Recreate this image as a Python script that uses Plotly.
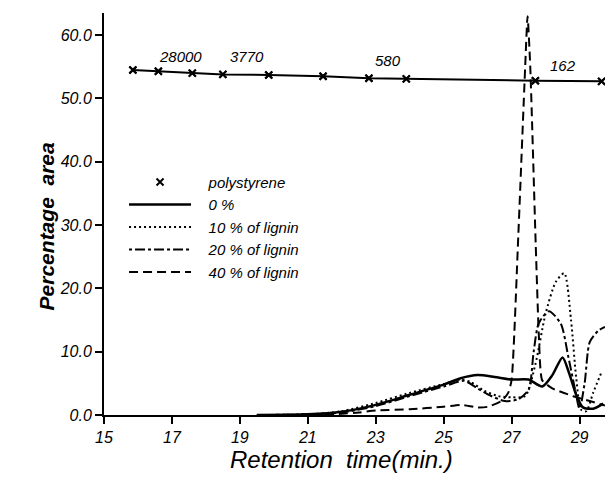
import plotly.graph_objects as go

# ---- data ----
ps_time = [15.85, 16.6, 17.6, 18.5, 19.85, 21.45, 22.8, 23.9, 27.7, 29.65]
ps_area = [54.5, 54.3, 54.0, 53.8, 53.7, 53.5, 53.2, 53.1, 52.8, 52.7]

mw_labels = ["28000", "3770", "580", "162"]
mw_time = [17.26, 19.2, 23.35, 28.5]
mw_area = [56.6, 56.6, 56.0, 55.2]

t0 = [19.5, 21.0, 22.0, 23.0, 24.0, 25.0, 25.5, 26.0, 26.5, 27.0, 27.5, 27.9, 28.2, 28.5, 28.7, 28.9, 29.1, 29.4, 29.7]
a0 = [0.0, 0.1, 0.5, 1.6, 3.2, 4.8, 5.8, 6.3, 6.0, 5.6, 5.6, 4.5, 6.3, 9.1, 6.5, 3.2, 1.2, 1.0, 1.8]

t10 = [19.5, 21.0, 22.0, 23.0, 24.0, 25.0, 25.5, 25.8, 26.2, 26.6, 27.0, 27.4, 27.7, 28.0, 28.3, 28.55, 28.75, 28.9, 29.05, 29.2, 29.4, 29.65]
a10 = [0.0, 0.1, 0.6, 1.9, 3.5, 4.9, 5.6, 5.2, 3.8, 3.0, 2.8, 3.0, 8.0, 16.0, 21.0, 22.4, 15.0, 6.0, 0.8, 0.6, 3.5, 6.8]

t20 = [19.5, 21.0, 22.0, 23.0, 24.0, 25.0, 25.6, 26.0, 26.4, 26.8, 27.2, 27.5, 27.65, 27.8, 28.1, 28.45, 28.67, 28.87, 29.0, 29.15, 29.3, 29.55, 29.75]
a20 = [0.0, 0.1, 0.4, 1.4, 3.0, 4.5, 5.4, 4.2, 3.0, 2.2, 2.5, 4.0, 10.0, 14.5, 16.4, 14.4, 9.2, 4.0, 1.0, 5.0, 11.5, 13.3, 13.9]

t40 = [21.5, 22.5, 23.0, 24.0, 25.0, 25.5, 26.0, 26.3, 26.7, 26.9, 27.0, 27.2, 27.4, 27.47, 27.55, 27.7, 27.8, 27.9, 28.2, 28.8, 29.3, 29.75]
a40 = [0.0, 0.4, 0.7, 0.9, 1.3, 1.6, 1.2, 1.3, 2.2, 3.5, 5.5, 28.7, 55.0, 63.0, 55.0, 28.7, 12.9, 5.5, 4.2, 3.0, 2.2, 1.5]

x_ticks = [15, 17, 19, 21, 23, 25, 27, 29]
y_ticks = [0, 10, 20, 30, 40, 50, 60]
y_ticklabels = ["0.0", "10.0", "20.0", "30.0", "40.0", "50.0", "60.0"]

FONT = "Liberation Sans"
ital = dict(family=FONT, size=16, color="black", style="italic")
lab_font = dict(family=FONT, size=15, color="black", style="italic")

fig = go.Figure()

fig.add_trace(go.Scatter(x=ps_time, y=ps_area, mode="lines+markers", showlegend=False,
                         line=dict(color="black", width=2),
                         marker=dict(symbol="x-thin-open", size=7, line=dict(color="black", width=2))))
fig.add_trace(go.Scatter(x=ps_time, y=ps_area, mode="markers", name="   polystyrene",
                         marker=dict(symbol="x-thin-open", size=7, color="black", line=dict(color="black", width=2))))

fig.add_trace(go.Scatter(x=t0, y=a0, mode="lines", name="   0 %", line_shape="spline",
                         line=dict(color="black", width=2.5, smoothing=0.7)))
fig.add_trace(go.Scatter(x=t10, y=a10, mode="lines", name="   10 % of lignin", line_shape="spline",
                         line=dict(color="black", width=2, dash="2px,3px", smoothing=0.7)))
fig.add_trace(go.Scatter(x=t20, y=a20, mode="lines", name="   20 % of lignin", line_shape="spline",
                         line=dict(color="black", width=2, dash="3px,3px,10px,3px", smoothing=0.7)))
fig.add_trace(go.Scatter(x=t40, y=a40, mode="lines", name="   40 % of lignin", line_shape="spline",
                         line=dict(color="black", width=2, dash="9px,5px", smoothing=0.5)))

for lab, tx, ty in zip(mw_labels, mw_time, mw_area):
    fig.add_annotation(x=tx, y=ty, text=lab, showarrow=False, font=lab_font, xref="x", yref="y")

fig.add_annotation(x=-0.142, y=0.47, xref="paper", yref="paper", text="<b>Percentage  area</b>",
                   showarrow=False, textangle=-90,
                   font=dict(family=FONT, size=21, color="black", style="italic"))
fig.add_annotation(x=0.475, y=-0.073, xref="paper", yref="paper", text="Retention  time(min.)",
                   showarrow=False, yanchor="top",
                   font=dict(family=FONT, size=24, color="black", style="italic"))

fig.update_layout(
    width=608, height=494,
    margin=dict(l=104, r=3, t=13, b=79),
    paper_bgcolor="white", plot_bgcolor="white",
    showlegend=True,
    legend=dict(x=0.04, y=0.62, xanchor="left", yanchor="top",
                font=dict(family=FONT, size=15, color="black", style="italic"),
                itemwidth=62, bgcolor="rgba(0,0,0,0)", tracegroupgap=0),
)
fig.update_xaxes(range=[15, 29.75], tickvals=x_ticks, ticktext=[str(v) for v in x_ticks],
                 showgrid=False, zeroline=False, showline=True, linecolor="black", linewidth=2,
                 ticks="outside", ticklen=7, tickwidth=2, tickcolor="black", tickfont=ital)
fig.update_yaxes(range=[0, 63.5], tickvals=y_ticks, ticktext=y_ticklabels,
                 showgrid=False, zeroline=False, showline=True, linecolor="black", linewidth=2,
                 ticks="outside", ticklen=7, tickwidth=2, tickcolor="black", tickfont=ital)

fig.write_html("out.html")
